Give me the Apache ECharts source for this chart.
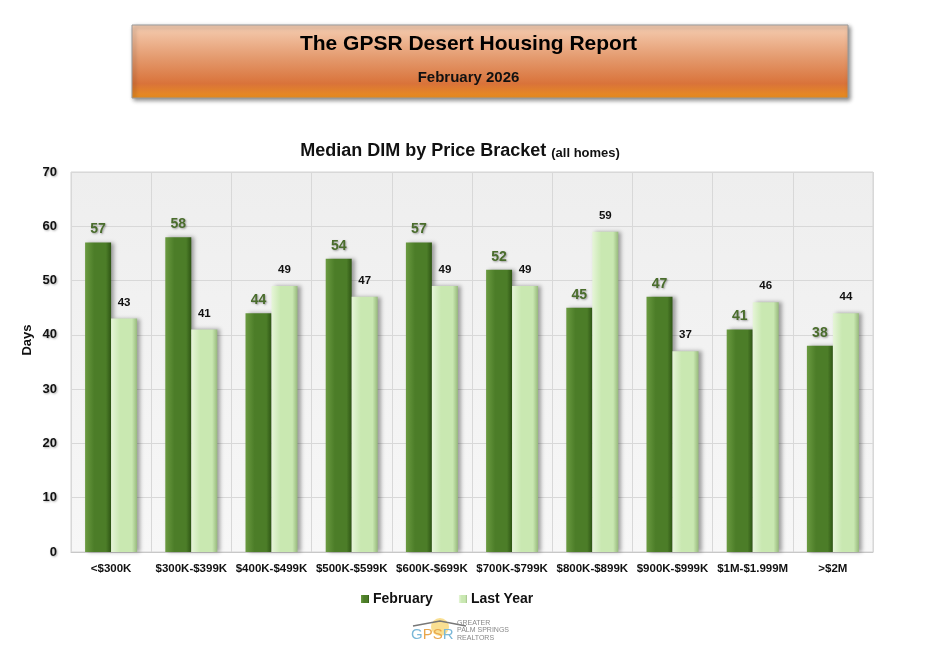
<!DOCTYPE html>
<html>
<head>
<meta charset="utf-8">
<script src="https://cdn.jsdelivr.net/npm/echarts@6/dist/echarts.min.js"></script>
<style>
  html, body { margin: 0; padding: 0; background: #fff; }
  #chart { width: 937px; height: 654px; }
</style>
</head>
<body>
<div id="chart"></div>
<script>
// price brackets and median days in market
const brackets = ['<$300K', '$300K-$399K', '$400K-$499K', '$500K-$599K', '$600K-$699K',
  '$700K-$799K', '$800K-$899K', '$900K-$999K', '$1M-$1.999M', '>$2M']
const february = [57, 58, 44, 54, 57, 52, 45, 47, 41, 38]
const lastYear = [43, 41, 49, 47, 49, 49, 59, 37, 46, 44]
const yTicks = [0, 10, 20, 30, 40, 50, 60, 70]

const chart = echarts.init(document.getElementById('chart'))

const barGrad = (c1, c2, c3) => new echarts.graphic.LinearGradient(0, 0, 1, 0, [
  { offset: 0, color: c1 },
  { offset: 0.35, color: c2 },
  { offset: 0.8, color: c2 },
  { offset: 1, color: c3 }
])

const option = {
  backgroundColor: '#fff',
  title: {
    text: '{a|Median DIM by Price Bracket }{b|(all homes)}',
    left: 455,
    top: 137,
    textAlign: 'center',
    textStyle: {
      rich: {
        a: { fontFamily: 'Liberation Sans', fontSize: 18, fontWeight: 'bold', color: '#111' },
        b: { fontFamily: 'Liberation Sans', fontSize: 13, fontWeight: 'bold', color: '#111', padding: [4, 0, 0, 0] }
      }
    }
  },
  legend: {
    data: ['February', 'Last Year'],
    left: 356,
    top: 587,
    itemWidth: 8,
    itemHeight: 8,
    itemGap: 26,
    icon: 'rect',
    textStyle: { fontFamily: 'Liberation Sans', fontSize: 14, fontWeight: 'bold', color: '#111', padding: [0, 0, 0, -1] }
  },
  grid: {
    left: 71, right: 64, top: 172, bottom: 102,
    show: true,
    backgroundColor: new echarts.graphic.LinearGradient(0, 0, 0, 1, [
      { offset: 0, color: '#eeeeee' },
      { offset: 1, color: '#f7f7f7' }
    ]),
    borderColor: '#d4d4d4',
    borderWidth: 1
  },
  xAxis: {
    type: 'category',
    data: brackets,
    axisLine: { lineStyle: { color: '#c8c8c8' } },
    axisTick: { show: false },
    splitLine: { show: true, lineStyle: { color: '#d8d8d8' } },
    axisLabel: { fontFamily: 'Liberation Sans', fontSize: 11.5, fontWeight: 'bold', color: '#111', margin: 11, interval: 0 }
  },
  yAxis: {
    type: 'value',
    min: yTicks[0],
    max: yTicks[yTicks.length - 1],
    interval: 10,
    axisLine: { show: false },
    axisTick: { show: false },
    splitLine: { lineStyle: { color: '#d8d8d8' } },
    axisLabel: {
      fontFamily: 'Liberation Sans', fontSize: 13, fontWeight: 'bold', color: '#111', margin: 14,
      textShadowColor: 'rgba(0,0,0,0.3)', textShadowBlur: 2, textShadowOffsetX: 1, textShadowOffsetY: 1
    }
  },
  series: [
    {
      name: 'February',
      type: 'bar',
      data: february,
      barWidth: 26,
      barGap: '0%',
      itemStyle: {
        color: barGrad('#6a9a40', '#4c7d28', '#2e5514'),
        shadowColor: 'rgba(0,0,0,0.35)', shadowBlur: 4, shadowOffsetX: 3, shadowOffsetY: 0
      },
      label: {
        show: true, position: 'top', distance: 6,
        fontFamily: 'Liberation Sans', fontSize: 14, fontWeight: 'bold', color: '#4a6d2c',
        textShadowColor: 'rgba(0,0,0,0.35)', textShadowBlur: 2, textShadowOffsetX: 1, textShadowOffsetY: 1
      }
    },
    {
      name: 'Last Year',
      type: 'bar',
      data: lastYear,
      barWidth: 26,
      itemStyle: {
        color: barGrad('#e6f5d8', '#c9e8b1', '#97b97c'),
        shadowColor: 'rgba(0,0,0,0.35)', shadowBlur: 4, shadowOffsetX: 3, shadowOffsetY: 0
      },
      label: {
        show: true, position: 'top', distance: 10,
        fontFamily: 'Liberation Sans', fontSize: 11.5, fontWeight: 'bold', color: '#111'
      }
    }
  ],
  graphic: [
    {
      type: 'rect',
      shape: { x: 132, y: 25, width: 716, height: 73 },
      style: {
        fill: new echarts.graphic.LinearGradient(0, 0, 0, 1, [
          { offset: 0, color: '#f6cfb4' },
          { offset: 0.45, color: '#e49a6e' },
          { offset: 0.8, color: '#d9733a' },
          { offset: 1, color: '#ea8f1c' }
        ]),
        stroke: '#9a9a9a',
        lineWidth: 1,
        shadowColor: 'rgba(0,0,0,0.45)', shadowBlur: 4, shadowOffsetX: 2, shadowOffsetY: 2
      }
    },
    {
      type: 'text', left: 'center', top: 34,
      style: { text: 'The GPSR Desert Housing Report', fontFamily: 'Liberation Sans', fontSize: 21, fontWeight: 'bold', fill: '#000' }
    },
    {
      type: 'text', left: 'center', top: 70,
      style: { text: 'February 2026', fontFamily: 'Liberation Sans', fontSize: 15, fontWeight: 'bold', fill: '#111' }
    },
    {
      type: 'text', x: 27, y: 340, rotation: Math.PI / 2,
      style: { text: 'Days', fontFamily: 'Liberation Sans', fontSize: 13, fontWeight: 'bold', fill: '#111', align: 'center', verticalAlign: 'middle' }
    },
    {
      type: 'circle', shape: { cx: 440, cy: 627, r: 9 },
      style: { fill: '#f7d777', opacity: 0.8 }
    },
    {
      type: 'polyline', shape: { points: [[413, 626], [440, 621], [466, 626]] },
      style: { stroke: '#777', lineWidth: 1.5, fill: null }
    },
    {
      type: 'text', left: 411, top: 627,
      style: { text: '{g|G}{p|PS}{g|R}', rich: {
        g: { fontFamily: 'Liberation Sans', fontSize: 15, fill: '#7ab8d8' },
        p: { fontFamily: 'Liberation Sans', fontSize: 15, fill: '#e9a64a' }
      } }
    },
    {
      type: 'text', left: 457, top: 619,
      style: { text: 'GREATER\nPALM SPRINGS\nREALTORS', fontFamily: 'Liberation Sans', fontSize: 7, lineHeight: 7.5, fill: '#888' }
    }
  ]
}

chart.setOption(option)
</script>
</body>
</html>
